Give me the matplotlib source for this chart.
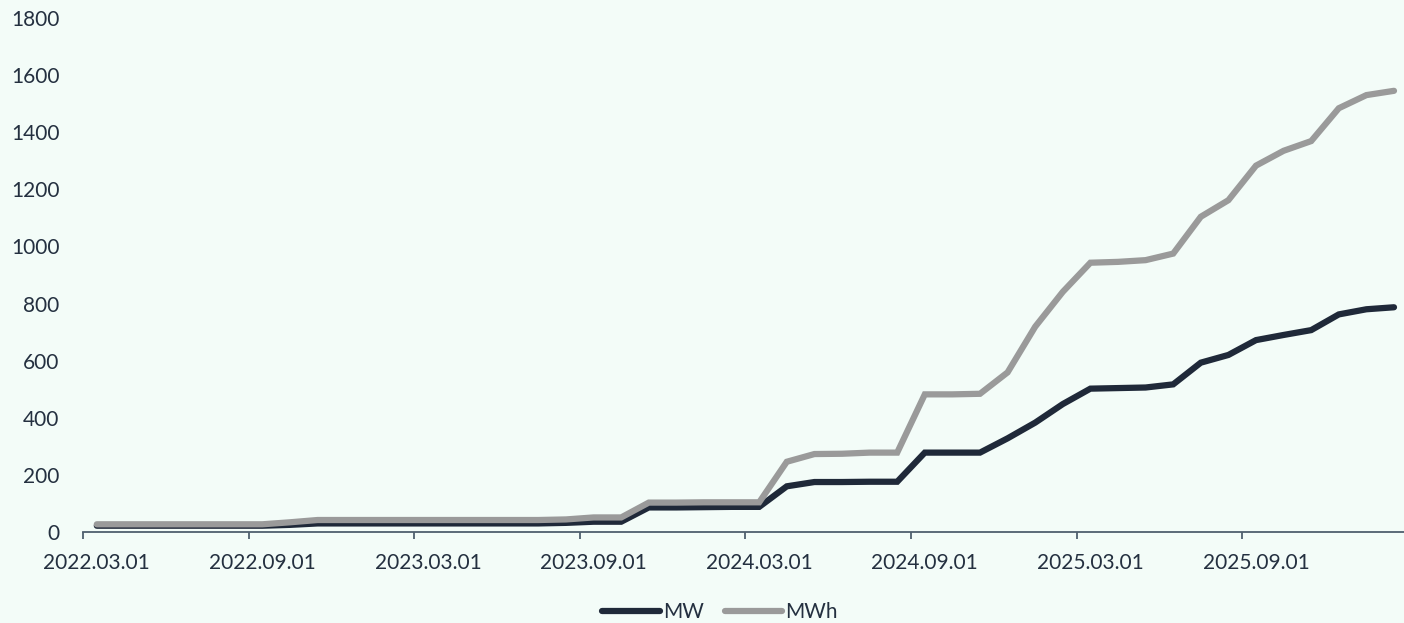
import matplotlib
matplotlib.use("Agg")
import matplotlib.pyplot as plt
import pandas as pd

plt.rcParams['font.family'] = ['Lato', 'DejaVu Sans']

months = pd.date_range("2022-03-01", periods=48, freq="MS")
tick_labels = ["2022.03.01", "2022.09.01", "2023.03.01", "2023.09.01",
               "2024.03.01", "2024.09.01", "2025.03.01", "2025.09.01"]

mw = [22, 22, 22, 22, 22, 22, 22, 25, 30, 30,
      30, 30, 30, 30, 30, 30, 30, 32, 36, 36,
      86, 86, 87, 88, 88, 160, 175, 175, 176, 176,
      278, 278, 278, 328, 383, 448, 502, 504, 506, 517,
      593, 620, 672, 690, 707, 762, 780, 787]
mwh = [27, 27, 27, 27, 27, 27, 27, 34, 42, 42,
       42, 42, 42, 42, 42, 42, 42, 44, 51, 51,
       103, 103, 104, 104, 104, 246, 273, 274, 278, 278,
       482, 482, 484, 559, 719, 841, 943, 946, 952, 975,
       1104, 1162, 1283, 1335, 1369, 1484, 1530, 1545]

bg = "#F3FCF8"
text_c = "#243040"
axis_c = "#4F5F6E"
fig = plt.figure(figsize=(14.04, 6.23), dpi=100, facecolor=bg)
ax = fig.add_axes([83/1404, 91/623, (1404-83)/1404, (532-18)/623], facecolor=bg)

x = [i + 0.5 for i in range(len(months))]
ax.plot(x, mw, color="#1F2939", lw=4.5, solid_capstyle="round", solid_joinstyle="miter", label="MW")
ax.plot(x, mwh, color="#9A9A9A", lw=4.5, solid_capstyle="round", solid_joinstyle="miter", label="MWh")

ax.set_xlim(0, (1404-83)/27.6)
ax.set_ylim(0, 1800)
ax.set_yticks(range(0, 1801, 200))
major_pos = list(range(0, 48, 6))
ax.set_xticks(major_pos)
ax.set_xticklabels([""] * len(major_pos))
ax.set_xticks([p + 0.5 for p in major_pos], minor=True)
ax.set_xticklabels(tick_labels, minor=True)

for s in ["top", "right", "left"]:
    ax.spines[s].set_visible(False)
ax.spines["bottom"].set_color(axis_c)
ax.spines["bottom"].set_linewidth(1.3)
ax.tick_params(axis="x", which="major", length=5, width=1.3, color=axis_c)
ax.tick_params(axis="x", which="minor", length=0, pad=15, labelsize=15, labelcolor=text_c)
ax.tick_params(axis="y", length=0, pad=17, labelsize=15, labelcolor=text_c)

leg = fig.legend(loc="center", bbox_to_anchor=(720/1404, 1-612/623), ncol=2, frameon=False,
                 fontsize=15, handlelength=2.75, handletextpad=0.15, columnspacing=1.0,
                 labelcolor=text_c)

fig.savefig("out.png", dpi=100, facecolor=bg)
